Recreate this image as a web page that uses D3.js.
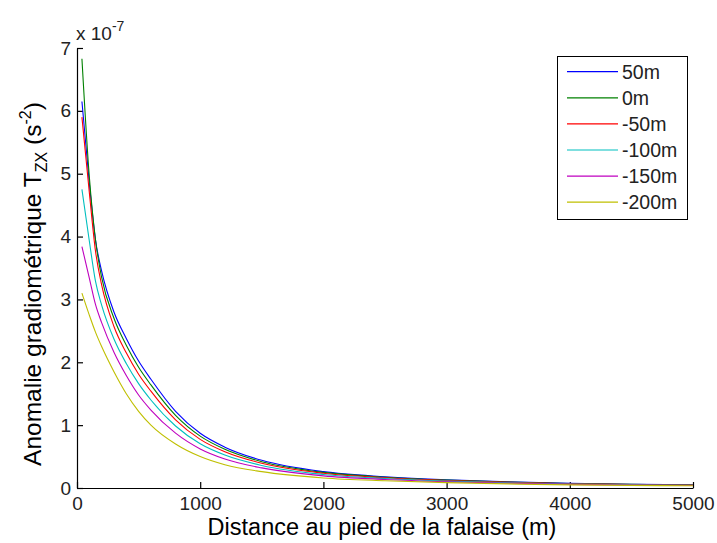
<!DOCTYPE html>
<html><head><meta charset="utf-8">
<script src="https://cdn.jsdelivr.net/npm/d3@7"></script>
<style>
html,body{margin:0;padding:0;background:#fff;}
svg{display:block;font-family:"Liberation Sans",Arial,Helvetica,sans-serif;}
</style></head>
<body>
<svg id="chart" width="717" height="543"></svg>
<script>
// ---- data (values in units of 1e-7 s^-2) ----
const distances = [40, 100, 150, 200, 300, 400, 500, 600, 800, 1000, 1200, 1500, 2000, 2500, 3000, 3500, 4000, 4500, 5000];
const seriesNames = ["50m", "0m", "-50m", "-100m", "-150m", "-200m"];
const s50   = [6.15, 4.85, 3.95, 3.45, 2.80, 2.38, 2.02, 1.73, 1.22, 0.87, 0.65, 0.44, 0.26, 0.18, 0.13, 0.098, 0.075, 0.06, 0.05];
const s0    = [6.83, 4.95, 3.95, 3.35, 2.70, 2.27, 1.92, 1.64, 1.155, 0.825, 0.616, 0.418, 0.248, 0.172, 0.125, 0.094, 0.072, 0.058, 0.048];
const sm50  = [5.90, 4.70, 3.77, 3.23, 2.57, 2.15, 1.81, 1.54, 1.085, 0.774, 0.577, 0.393, 0.234, 0.163, 0.118, 0.089, 0.068, 0.055, 0.046];
const sm100 = [4.75, 3.93, 3.29, 2.91, 2.37, 1.98, 1.66, 1.40, 0.986, 0.703, 0.524, 0.359, 0.215, 0.151, 0.11, 0.083, 0.064, 0.052, 0.043];
const sm150 = [3.84, 3.34, 2.92, 2.63, 2.16, 1.79, 1.48, 1.24, 0.872, 0.622, 0.462, 0.32, 0.193, 0.136, 0.10, 0.076, 0.058, 0.048, 0.04];
const sm200 = [3.10, 2.75, 2.48, 2.25, 1.85, 1.50, 1.22, 1.00, 0.70, 0.50, 0.37, 0.26, 0.16, 0.115, 0.085, 0.065, 0.05, 0.042, 0.035];
const seriesValues = [s50, s0, sm50, sm100, sm150, sm200];
const seriesColors = ["#0000ff", "#008000", "#ff0000", "#00bfbf", "#bf00bf", "#bfbf00"];
const xTicks = [0, 1000, 2000, 3000, 4000, 5000];
const yTicks = [0, 1, 2, 3, 4, 5, 6, 7];

const svg = d3.select("#chart");
const L = 77, R = 693, T = 48, B = 488;
const x = d3.scaleLinear().domain([0, 5000]).range([L, R]);
const y = d3.scaleLinear().domain([0, 7]).range([B, T]);
const fmt = d3.format("d");

// axes
const xAxis = svg.append("g").attr("transform", `translate(0,${B})`)
  .call(d3.axisBottom(x).tickValues(xTicks).tickFormat(fmt).tickSizeInner(-6).tickSizeOuter(0).tickPadding(9));
const yAxis = svg.append("g").attr("transform", `translate(${L},0)`)
  .call(d3.axisLeft(y).tickValues(yTicks).tickFormat(fmt).tickSizeInner(-6).tickSizeOuter(0).tickPadding(6));
[xAxis, yAxis].forEach(g => {
  g.select(".domain").attr("stroke", "#000").attr("stroke-width", 1.2);
  g.selectAll(".tick line").attr("stroke", "#000").attr("stroke-width", 1.2);
  g.selectAll(".tick text").attr("fill", "#222").style("font-size", "19px")
    .style("font-family", '"Liberation Sans",Arial,sans-serif');
});

// lines
const line = d3.line().x((d, i) => x(distances[i])).y(d => y(d)).curve(d3.curveMonotoneX);
seriesValues.forEach((vals, k) => {
  svg.append("path").datum(vals).attr("d", line)
    .attr("fill", "none").attr("stroke", seriesColors[k]).attr("stroke-width", 1.1);
});

// exponent label
const ex = svg.append("text").attr("x", 76).attr("y", 40).attr("fill", "#222").style("font-size", "19px");
ex.append("tspan").text("x 10");
ex.append("tspan").attr("dy", -9).style("font-size", "14px").text("-7");

// x label
svg.append("text").attr("x", 382).attr("y", 535).attr("text-anchor", "middle")
  .attr("fill", "#000").style("font-size", "23.5px").text("Distance au pied de la falaise (m)");

// y label
const yl = svg.append("text").attr("transform", "translate(41,284) rotate(-90)")
  .attr("text-anchor", "middle").attr("fill", "#000").style("font-size", "24.5px");
yl.append("tspan").text("Anomalie gradiométrique T");
yl.append("tspan").attr("dy", 6).style("font-size", "16px").text("ZX");
yl.append("tspan").attr("dy", -6).text(" (s");
yl.append("tspan").attr("dy", -10).style("font-size", "16px").text("-2");
yl.append("tspan").attr("dy", 10).text(")");

// legend
const lg = svg.append("g");
lg.append("rect").attr("x", 557.5).attr("y", 56.5).attr("width", 130).attr("height", 163)
  .attr("fill", "#fff").attr("stroke", "#000").attr("stroke-width", 1);
seriesNames.forEach((name, k) => {
  const yy = 71.7 + k * 26.1;
  lg.append("line").attr("x1", 567).attr("x2", 618).attr("y1", yy).attr("y2", yy)
    .attr("stroke", seriesColors[k]).attr("stroke-width", 1.2);
  lg.append("text").attr("x", 622).attr("y", yy).attr("dy", "0.36em")
    .attr("fill", "#222").style("font-size", "19.5px").text(name);
});
</script>
</body></html>
